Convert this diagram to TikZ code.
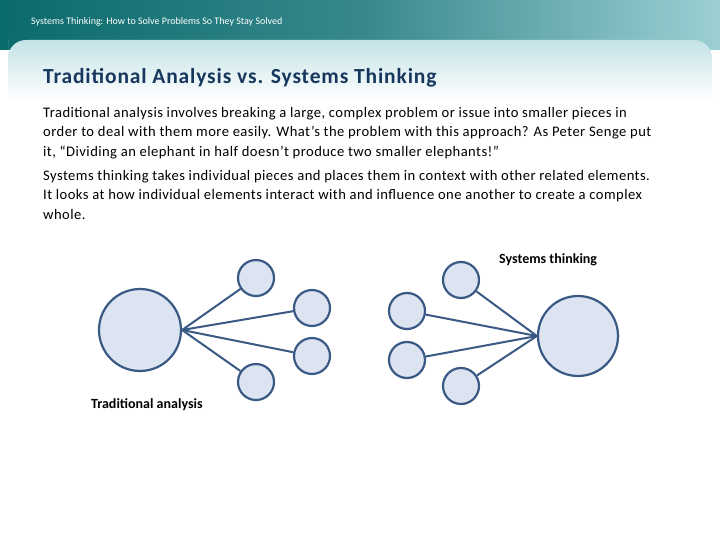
\documentclass[tikz,border=0pt]{standalone}
\usepackage{fontspec}
\setmainfont{Carlito}
\begin{document}
\begin{tikzpicture}[x=1pt,y=-1pt,
  circ/.style={circle,draw=lineblue,fill=fillblue,line width=2.2pt,inner sep=0pt},
  conn/.style={draw=lineblue,line width=2pt},
  body/.style={anchor=north west,align=left,font=\fontsize{14.6}{19.5}\selectfont\addfontfeature{LetterSpace=3},inner sep=0pt}]
\definecolor{lineblue}{HTML}{3A5A85}
\definecolor{fillblue}{HTML}{DCE3F1}
\definecolor{teal1}{HTML}{0B6A6C}
\definecolor{teal2}{HTML}{9CCFD4}
\definecolor{titleblue}{HTML}{17375E}
\useasboundingbox (0,0) rectangle (720,540);
\fill[white] (0,0) rectangle (720,540);
\shade[left color=teal1,right color=teal2,middle color=teal1!70!teal2] (0,0) rectangle (720,50);
\shade[top color=teal2!60!white,bottom color=white] (8,40) [rounded corners=18pt] -- (8,100) -- (8,40) -- (712,40) -- (712,100) [sharp corners] -- (712,100) -- (8,100) -- cycle;
\fill[white] (0,100) rectangle (720,540);
\node[anchor=west,text=white,font=\fontsize{10}{12}\selectfont,inner sep=0pt] (hdr) at (31,22) {Systems Thinking: How to Solve Problems So They Stay Solved};
\node[anchor=west,text=titleblue,font=\bfseries\fontsize{21.5}{24}\selectfont\addfontfeature{LetterSpace=4},inner sep=0pt] (title) at (43,78) {Traditional Analysis vs. Systems Thinking};
\node[body] (p1) at (43,107) {Traditional analysis involves breaking a large, complex problem or issue into smaller pieces in\\order to deal with them more easily. What’s the problem with this approach? As Peter Senge put\\it, “Dividing an elephant in half doesn’t produce two smaller elephants!”};
\node[body] (p2) at (43,170) {Systems thinking takes individual pieces and places them in context with other related elements.\\It looks at how individual elements interact with and influence one another to create a complex\\whole.};
% left
\node[circ,minimum size=82pt] (L) at (140,330) {};
\node[circ,minimum size=36pt] (L1) at (256,278) {};
\node[circ,minimum size=36pt] (L2) at (312,308) {};
\node[circ,minimum size=36pt] (L3) at (312,356) {};
\node[circ,minimum size=36pt] (L4) at (256,382) {};
\foreach \n in {L1,L2,L3,L4} \draw[conn] (L.east) -- (\n);
\node[anchor=west,font=\bfseries\fontsize{14}{16}\selectfont,inner sep=0pt] (tl) at (91,405) {Traditional analysis};
% right
\node[circ,minimum size=80pt] (R) at (578,336) {};
\node[circ,minimum size=36pt] (R1) at (461,280) {};
\node[circ,minimum size=36pt] (R2) at (407,311) {};
\node[circ,minimum size=36pt] (R3) at (407,360) {};
\node[circ,minimum size=36pt] (R4) at (461,386) {};
\foreach \n in {R1,R2,R3,R4} \draw[conn] (\n) -- (R.west);
\node[anchor=west,font=\bfseries\fontsize{14}{16}\selectfont,inner sep=0pt] (ts) at (499,260) {Systems thinking};
\end{tikzpicture}
\end{document}
